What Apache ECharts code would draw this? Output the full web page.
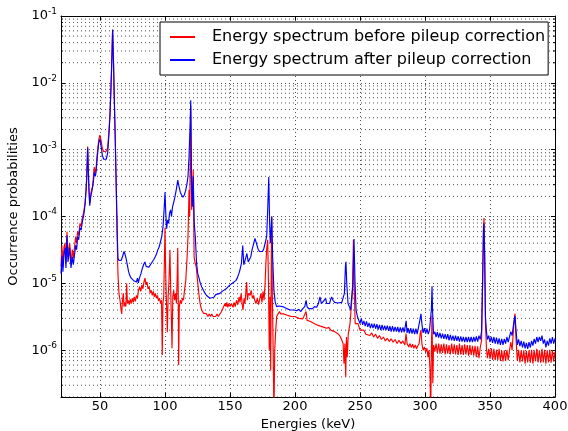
<!DOCTYPE html>
<html><head><meta charset="utf-8">
<script src="https://cdn.jsdelivr.net/npm/echarts@6/dist/echarts.min.js"></script>
<style>html,body{margin:0;padding:0;background:#fff}#c{width:568px;height:431px}</style>
</head><body><div id="c"></div>
<script>
const xTicks = [50,100,150,200,250,300,350,400];
const seriesNames = ['Energy spectrum before pileup correction','Energy spectrum after pileup correction'];

const before = [
[20.0,1.8e-5],[20.7,3.7e-5],[21.5,1.8e-5],[22.3,3.5e-5],[23.1,4e-5],[23.8,2e-5],[24.6,5.9e-5],[25.4,2.5e-5],[26.2,3.5e-5],[26.7,4e-5],[27.7,2e-5],[28.7,3.2e-5],[29.5,2.4e-5],[30.2,3.2e-5],[31.3,5e-5],[32.0,4e-5],[32.8,6e-5],[33.6,5.2e-5],[34.6,7.9e-5],[35.5,7.1e-5],[36.4,9.5e-5],[37.5,1.17e-4],[38.5,1.6e-4],[39.3,2.6e-4],[39.8,4e-4],[40.5,1.12e-3],[41.0,5.2e-4],[41.5,2.6e-4],[42.1,1.6e-4],[42.6,1.9e-4],[43.1,2.3e-4],[43.8,2.6e-4],[44.4,2.8e-4],[45.0,4.2e-4],[45.6,5.5e-4],[46.3,4.5e-4],[46.9,5e-4],[47.5,7.1e-4],[48.2,1e-3],[49.0,1.4e-3],[50.0,1.66e-3],[51.0,1.32e-3],[51.8,1.05e-3],[52.8,9.3e-4],[53.8,9.1e-4],[54.8,9.5e-4],[55.9,1.07e-3],[56.8,1.78e-3],[57.7,3.5e-3],[58.4,8.3e-3],[59.0,1.9e-2],[59.7,6.3e-2],[60.4,2e-2],[61.0,5.9e-3],[61.8,1.26e-3],[62.5,2.7e-4],[63.2,5e-5],[63.8,1.4e-5],[64.6,7.1e-6],[65.4,5.6e-6],[66.2,4e-6],[66.7,3.5e-6],[67.3,5.6e-6],[67.9,7.1e-6],[68.5,4.5e-6],[69.2,5.2e-6],[69.9,4.5e-6],[70.5,1e-5],[71.1,5e-6],[71.8,5.6e-6],[72.5,4.8e-6],[73.2,5.8e-6],[74.0,5e-6],[74.8,6e-6],[75.6,5.2e-6],[76.4,6.3e-6],[77.2,5.4e-6],[78.0,6.6e-6],[78.8,6e-6],[79.6,7.9e-6],[80.5,8.9e-6],[81.3,7.6e-6],[82.2,9.5e-6],[83.0,8.3e-6],[83.8,1.05e-5],[84.6,1.2e-5],[85.4,9.5e-6],[86.2,1.05e-5],[87.0,8.3e-6],[87.8,8.9e-6],[88.6,7.2e-6],[89.4,7.9e-6],[90.2,6.6e-6],[91.0,7.6e-6],[91.8,6.3e-6],[92.6,7.1e-6],[93.4,6e-6],[94.2,6.6e-6],[95.0,5.5e-6],[95.8,6e-6],[96.6,5e-6],[97.3,5.6e-6],[97.9,8.5e-7],[98.4,5e-6],[99.0,6.3e-6],[99.6,2.5e-5],[100.0,6.8e-5],[100.5,1.6e-5],[101.0,6.3e-6],[101.8,1.86e-6],[102.4,6.3e-6],[103.0,1e-5],[103.8,3.2e-5],[104.4,7.9e-6],[105.4,1.07e-6],[106.0,6.3e-6],[106.7,7.9e-6],[107.4,5.6e-6],[108.1,7.1e-6],[108.8,5e-6],[109.4,1.26e-5],[109.8,3.4e-5],[110.2,6.3e-6],[110.5,6e-7],[111.0,4.5e-6],[111.8,5.6e-6],[112.6,5e-6],[113.4,6e-6],[114.2,5.6e-6],[115.0,7.9e-6],[116.0,1.12e-5],[117.0,2.5e-5],[117.7,5e-5],[118.5,2.5e-4],[119.0,1e-4],[119.8,4.5e-3],[120.5,1.26e-4],[121.0,2e-4],[121.7,5e-4],[122.4,2.5e-5],[123.2,2e-5],[124.0,1.8e-5],[125.0,1.12e-5],[126.0,7.1e-6],[127.0,5e-6],[128.2,4e-6],[129.5,3.6e-6],[131.0,3.4e-6],[132.0,3.5e-6],[133.0,3.2e-6],[134.0,3.5e-6],[135.0,3.2e-6],[136.0,3.5e-6],[137.0,3.2e-6],[138.0,3.4e-6],[139.0,3.2e-6],[140.0,3.5e-6],[141.0,3.2e-6],[142.3,3.4e-6],[143.5,3.8e-6],[144.5,4.2e-6],[145.5,4e-6],[146.2,5e-6],[147.0,4.5e-6],[147.5,5.2e-6],[148.3,4.4e-6],[149.0,5e-6],[150.0,4.5e-6],[151.0,5e-6],[152.3,4.4e-6],[153.2,5.2e-6],[154.0,4.5e-6],[155.0,5.6e-6],[156.0,4.8e-6],[157.0,6.3e-6],[157.7,5.2e-6],[158.6,7.1e-6],[159.3,5e-6],[160.0,4e-6],[160.8,6e-6],[161.5,5e-6],[162.3,7.9e-6],[162.8,1.05e-5],[163.4,5.6e-6],[164.2,7.1e-6],[165.4,6.6e-6],[166.3,7.9e-6],[167.2,6e-6],[168.2,6.6e-6],[169.0,5.6e-6],[170.0,5e-6],[171.0,6e-6],[172.0,4.8e-6],[173.0,5e-6],[173.8,7.1e-6],[174.6,5.2e-6],[175.4,7.6e-6],[176.2,5.6e-6],[177.0,1e-5],[177.6,2e-5],[178.2,3.2e-5],[179.0,4.5e-5],[179.6,1e-5],[180.2,1e-6],[180.8,6.3e-6],[181.3,5e-7],[181.8,2.5e-5],[182.1,1e-4],[182.6,6.3e-6],[183.2,1e-6],[183.8,1e-7],[184.4,1e-6],[184.9,1.6e-6],[185.9,3.2e-6],[187.0,3.5e-6],[188.0,3.8e-6],[189.0,3.5e-6],[190.0,3.7e-6],[191.0,3.5e-6],[192.0,3.6e-6],[193.0,3.4e-6],[194.0,3.5e-6],[195.0,3.3e-6],[196.0,3.5e-6],[197.0,3.2e-6],[198.5,3.3e-6],[200.0,3.2e-6],[201.5,3.2e-6],[203.0,3e-6],[204.5,3.2e-6],[206.0,2.95e-6],[207.5,3.1e-6],[208.5,3.8e-6],[209.3,2.8e-6],[210.5,2.9e-6],[212.0,2.7e-6],[213.5,2.75e-6],[215.0,2.5e-6],[216.7,2.4e-6],[218.0,2.5e-6],[219.5,2.3e-6],[221.0,2.35e-6],[222.5,2.2e-6],[224.4,2.14e-6],[226.0,2.2e-6],[227.5,2e-6],[229.0,2.1e-6],[230.5,1.9e-6],[232.0,1.78e-6],[233.5,1.74e-6],[235.0,1.58e-6],[236.0,1.41e-6],[237.0,1.26e-6],[237.7,6.3e-7],[238.4,1.26e-6],[239.0,4e-7],[239.6,1.58e-6],[240.2,7.9e-7],[241.0,1.78e-6],[242.3,2.5e-6],[243.5,2.6e-6],[244.3,7.9e-6],[244.9,4.5e-5],[245.6,7.9e-6],[246.3,2.5e-6],[247.0,2.4e-6],[248.5,2.5e-6],[250.0,2e-6],[251.5,1.9e-6],[253.0,2e-6],[254.5,1.74e-6],[256.0,1.86e-6],[257.7,1.66e-6],[259.0,1.82e-6],[260.5,1.58e-6],[262.0,1.74e-6],[263.5,1.51e-6],[265.0,1.66e-6],[266.5,1.45e-6],[268.0,1.58e-6],[269.5,1.38e-6],[271.0,1.51e-6],[272.5,1.35e-6],[274.0,1.48e-6],[275.5,1.32e-6],[277.0,1.45e-6],[278.5,1.26e-6],[280.0,1.41e-6],[281.5,1.26e-6],[283.0,1.38e-6],[284.5,1.2e-6],[285.4,1.78e-6],[286.2,1.26e-6],[287.5,1.12e-6],[288.5,1.26e-6],[289.5,1.1e-6],[290.5,1.23e-6],[291.5,1.07e-6],[292.5,1.2e-6],[293.5,1.05e-6],[294.5,1.17e-6],[295.5,1.26e-6],[296.3,1.78e-6],[296.9,2e-6],[297.6,1.26e-6],[298.5,1e-6],[299.5,1.12e-6],[300.5,9.5e-7],[301.5,1.07e-6],[302.3,7.9e-7],[303.0,1e-6],[303.8,5.6e-7],[304.4,1e-7],[304.9,1e-6],[305.4,3.3e-6],[306.0,3.2e-7],
[306.6,1.2e-6],[307.5,9.5e-7],[308.5,1.26e-6],[309.5,9.1e-7],[310.5,1.26e-6],[311.5,8.9e-7],[312.5,1.23e-6],[313.5,9.1e-7],[314.5,1.26e-6],[315.5,8.7e-7],[316.5,1.23e-6],[317.5,8.9e-7],[318.5,1.2e-6],[319.5,8.7e-7],[320.5,1.26e-6],[321.5,8.9e-7],[322.5,1.23e-6],[323.5,8.7e-7],[324.5,1.2e-6],[325.5,8.5e-7],[326.5,1.26e-6],[327.5,8.7e-7],[328.5,1.2e-6],[329.5,8.5e-7],[330.5,1.23e-6],[331.5,8.7e-7],[332.5,1.2e-6],[333.5,8.3e-7],[334.5,1.2e-6],[335.5,8.5e-7],[336.5,1.17e-6],[337.5,8.3e-7],[338.5,1.17e-6],[339.5,7.9e-7],[340.5,1.15e-6],[341.5,7.6e-7],[342.5,1.1e-6],[343.5,1.41e-6],[344.3,1e-5],[345.0,7.1e-5],[345.4,9.5e-5],[345.9,2.8e-5],[346.5,2.5e-6],[347.3,1.05e-6],[348.0,7.6e-7],[349.0,1.05e-6],[350.0,7.4e-7],[351.0,1.07e-6],[352.0,7.2e-7],[353.0,1.05e-6],[354.0,7.1e-7],[355.0,1.02e-6],[356.0,7.2e-7],[357.0,1.05e-6],[358.0,6.9e-7],[359.0,1e-6],[360.0,6.8e-7],[361.0,1e-6],[362.0,6.9e-7],[363.0,1.02e-6],[364.0,7.1e-7],[365.0,1e-6],[366.0,1.32e-6],[367.0,1e-6],[368.2,2.24e-6],[369.2,3.55e-6],[370.0,1.51e-6],[371.0,6.9e-7],[372.0,1.02e-6],[373.0,6.6e-7],[374.0,1e-6],[375.0,6.8e-7],[376.0,1e-6],[377.0,6.3e-7],[378.0,9.8e-7],[379.0,6.6e-7],[380.0,1e-6],[381.0,6.5e-7],[382.0,1.02e-6],[383.0,6.3e-7],[384.0,1e-6],[385.0,6.8e-7],[386.0,1.05e-6],[387.0,6.6e-7],[388.0,1e-6],[389.0,6.5e-7],[390.0,1.05e-6],[391.0,6.6e-7],[392.0,1.02e-6],[393.0,6.3e-7],[394.0,1e-6],[395.0,6.6e-7],[396.0,1.02e-6],[397.0,6.5e-7],[398.0,1e-6],[399.0,6.8e-7],[400.0,9.5e-7]
];

const after = [
[20.0,1.4e-5],[20.7,2.6e-5],[21.5,1.5e-5],[22.3,2.8e-5],[23.1,3.4e-5],[23.8,1.7e-5],[24.6,5.2e-5],[25.4,2.1e-5],[26.2,2.8e-5],[26.7,3.4e-5],[27.7,1.7e-5],[28.7,2.5e-5],[29.5,1.9e-5],[30.2,2.5e-5],[31.3,3.7e-5],[32.0,3.2e-5],[32.8,5.0e-5],[33.6,4.5e-5],[34.6,6.8e-5],[35.5,6.3e-5],[36.4,8.3e-5],[37.5,1.05e-4],[38.5,1.5e-4],[39.3,2.5e-4],[39.8,3.7e-4],[40.5,1.07e-3],[41.0,5e-4],[41.5,2.5e-4],[42.1,1.45e-4],[42.6,1.8e-4],[43.1,2.1e-4],[43.8,2.4e-4],[44.4,2.5e-4],[45.0,3.5e-4],[45.6,4.6e-4],[46.3,4e-4],[46.9,4.5e-4],[47.5,6.3e-4],[48.2,8.9e-4],[49.0,1.26e-3],[50.0,1.45e-3],[51.0,1.07e-3],[51.8,8.3e-4],[52.8,7.2e-4],[53.8,6.9e-4],[54.8,7.2e-4],[55.9,8.9e-4],[56.8,1.6e-3],[57.7,3.3e-3],[58.4,7.9e-3],[59.0,1.86e-2],[59.7,6.2e-2],[60.4,2e-2],[61.0,5.9e-3],[61.8,1.26e-3],[62.5,2.7e-4],[63.2,6.3e-5],[63.8,2.4e-5],[64.6,2.2e-5],[65.4,2.3e-5],[66.2,2.2e-5],[67.3,2.5e-5],[68.0,2.8e-5],[68.5,3.0e-5],[69.2,2.75e-5],[70.0,2.4e-5],[71.0,1.9e-5],[72.0,1.5e-5],[73.0,1.3e-5],[74.0,1.2e-5],[75.0,1.17e-5],[76.0,1.1e-5],[77.0,1.17e-5],[78.0,1.05e-5],[78.8,1.2e-5],[79.5,1.02e-5],[80.3,1.2e-5],[81.5,1.4e-5],[82.5,1.66e-5],[83.5,1.9e-5],[84.5,2.1e-5],[85.5,1.8e-5],[86.5,1.9e-5],[87.5,1.74e-5],[88.5,1.78e-5],[89.5,2e-5],[90.5,2.1e-5],[91.5,2.3e-5],[92.5,2.5e-5],[93.5,2.75e-5],[94.5,3.2e-5],[95.5,3.5e-5],[96.5,4.2e-5],[97.5,5e-5],[98.5,7.1e-5],[99.3,1.26e-4],[100.0,2.3e-4],[100.6,1.12e-4],[101.3,6.6e-5],[102.0,8.9e-5],[102.7,7.9e-5],[103.5,1.12e-4],[104.3,1.26e-4],[105.0,1e-4],[105.8,1.4e-4],[106.8,1.66e-4],[107.7,2e-4],[108.8,2.6e-4],[109.8,3.5e-4],[110.8,2.8e-4],[111.8,2.3e-4],[112.8,2.1e-4],[113.8,1.95e-4],[114.8,2.1e-4],[115.8,2.4e-4],[116.8,3e-4],[117.7,4e-4],[118.5,7.9e-4],[119.2,2e-3],[119.8,5.5e-3],[120.4,3.2e-4],[121.0,1.4e-4],[121.7,4e-4],[122.5,7.9e-5],[123.3,5e-5],[124.3,2e-5],[125.2,1.4e-5],[126.2,1.2e-5],[127.2,1e-5],[128.2,8.9e-6],[129.5,7.9e-6],[130.8,7.1e-6],[132.0,6.6e-6],[133.3,6.3e-6],[134.6,6e-6],[136.0,6.3e-6],[137.5,6.2e-6],[139.0,6.8e-6],[140.5,6.6e-6],[142.3,7.1e-6],[144.0,7.6e-6],[145.5,7.9e-6],[147.0,8.3e-6],[148.5,8.9e-6],[150.0,9.3e-6],[151.5,1e-5],[153.0,1.05e-5],[154.5,1.1e-5],[155.6,1.2e-5],[156.8,1.4e-5],[157.7,1.6e-5],[158.8,2e-5],[159.8,3.7e-5],[160.6,1.9e-5],[161.5,1.86e-5],[162.3,2.5e-5],[163.0,2.8e-5],[164.0,2.1e-5],[165.0,2.2e-5],[166.0,2.5e-5],[167.0,3.2e-5],[168.0,3.8e-5],[169.2,4.7e-5],[170.3,4e-5],[171.5,3.3e-5],[172.7,3e-5],[173.8,2.95e-5],[175.0,3e-5],[176.0,3.3e-5],[177.0,4e-5],[178.2,5e-5],[179.0,1.26e-4],[179.8,3.9e-4],[180.5,7.9e-5],[181.0,4e-5],[181.6,6.3e-5],[182.1,1e-4],[182.8,2.5e-5],[183.8,7.9e-6],[184.8,5.2e-6],[185.9,4.5e-6],[187.5,4.6e-6],[189.0,4.3e-6],[190.5,4.5e-6],[192.0,4.3e-6],[193.6,4.2e-6],[195.0,4.4e-6],[196.5,4e-6],[198.0,4.2e-6],[199.5,4e-6],[201.3,3.9e-6],[203.0,4.1e-6],[204.5,3.8e-6],[206.0,4.2e-6],[207.5,4.5e-6],[208.5,5.6e-6],[209.3,4.5e-6],[210.5,4.2e-6],[212.0,4.4e-6],[213.5,4.2e-6],[215.0,4.5e-6],[216.7,4.4e-6],[218.0,5e-6],[219.2,6.3e-6],[220.3,5e-6],[221.5,4.7e-6],[222.5,5.6e-6],[223.5,6e-6],[224.4,5e-6],[225.5,5.2e-6],[226.5,5e-6],[227.5,5.8e-6],[228.2,6.3e-6],[229.2,5.6e-6],[230.5,5.2e-6],[231.5,5.4e-6],[233.0,5.1e-6],[234.5,5e-6],[236.0,5.2e-6],[237.0,5e-6],[238.0,7.1e-6],[238.8,1.8e-5],[239.2,2.1e-5],[239.8,1e-5],[240.8,5e-6],[241.8,4.5e-6],[242.8,4e-6],[243.6,4e-6],[244.5,1e-5],[245.4,4.6e-5],[246.2,1e-5],
[247.0,4.0e-6],[248.0,3.2e-6],[249.0,3.0e-6],[250.0,2.5e-6],[251.0,3.0e-6],[252.0,2.4e-6],[253.0,2.75e-6],[254.0,2.3e-6],[255.0,2.7e-6],[256.0,2.24e-6],[257.0,2.57e-6],[258.0,2.14e-6],[259.0,2.5e-6],[260.0,2.14e-6],[261.0,2.5e-6],[262.0,2.1e-6],[263.0,2.45e-6],[264.0,2.04e-6],[265.0,2.4e-6],[266.0,2e-6],[267.0,2.4e-6],[268.0,2e-6],[269.0,2.34e-6],[270.0,2e-6],[271.0,2.34e-6],[272.0,1.95e-6],[273.0,2.3e-6],[274.0,1.9e-6],[275.0,2.3e-6],[276.0,1.9e-6],[277.0,2.24e-6],[278.0,1.9e-6],[279.0,2.24e-6],[280.0,1.86e-6],[281.0,2.2e-6],[282.0,1.86e-6],[283.0,2.2e-6],[284.0,1.86e-6],[285.0,2.4e-6],[285.5,2.75e-6],[286.2,1.82e-6],[287.0,2.14e-6],[288.0,1.78e-6],[289.0,2.14e-6],[290.0,1.78e-6],[291.0,2.1e-6],[292.0,1.74e-6],[293.0,2.1e-6],[294.0,1.74e-6],[295.0,2.2e-6],[296.0,2.8e-6],[296.9,3.5e-6],[297.7,2.4e-6],[298.5,1.82e-6],[299.5,2.14e-6],[300.5,1.78e-6],[301.5,2.1e-6],[302.5,1.74e-6],[303.5,2.04e-6],[304.3,2e-6],[304.9,4e-6],[305.4,9.1e-6],[305.9,3.55e-6],[306.6,1.74e-6],[307.5,1.9e-6],[308.5,1.58e-6],[309.5,1.86e-6],[310.5,1.55e-6],[311.5,1.82e-6],[312.5,1.51e-6],[313.5,1.78e-6],[314.5,1.48e-6],[315.5,1.74e-6],[316.5,1.45e-6],[317.5,1.74e-6],[318.5,1.41e-6],[319.5,1.7e-6],[320.5,1.41e-6],[321.5,1.66e-6],[322.5,1.38e-6],[323.5,1.66e-6],[324.5,1.38e-6],[325.5,1.62e-6],[326.5,1.35e-6],[327.5,1.62e-6],[328.5,1.35e-6],[329.5,1.58e-6],[330.5,1.32e-6],[331.5,1.58e-6],[332.5,1.32e-6],[333.5,1.58e-6],[334.5,1.32e-6],[335.5,1.58e-6],[336.5,1.32e-6],[337.5,1.58e-6],[338.5,1.35e-6],[339.5,1.62e-6],[340.5,1.35e-6],[341.5,1.66e-6],[342.5,1.45e-6],[343.5,1.9e-6],[344.3,1e-5],[345.0,6.3e-5],[345.4,7.9e-5],[345.9,2.5e-5],[346.5,3.2e-6],[347.3,1.9e-6],[348.0,1.45e-6],[349.0,1.66e-6],[350.0,1.32e-6],[351.0,1.58e-6],[352.0,1.29e-6],[353.0,1.58e-6],[354.0,1.26e-6],[355.0,1.55e-6],[356.0,1.23e-6],[357.0,1.51e-6],[358.0,1.2e-6],[359.0,1.48e-6],[360.0,1.2e-6],[361.0,1.48e-6],[362.0,1.26e-6],[363.0,1.58e-6],[364.0,1.32e-6],[365.0,1.58e-6],[366.0,1.9e-6],[367.0,1.66e-6],[368.2,2.5e-6],[369.2,3.3e-6],[370.0,2e-6],[371.0,1.2e-6],[372.0,1.45e-6],[373.0,1.15e-6],[374.0,1.38e-6],[375.0,1.1e-6],[376.0,1.35e-6],[377.0,1.07e-6],[378.0,1.29e-6],[379.0,1.05e-6],[380.0,1.32e-6],[381.0,1.1e-6],[382.0,1.38e-6],[383.0,1.17e-6],[384.0,1.48e-6],[385.0,1.26e-6],[386.0,1.58e-6],[387.0,1.32e-6],[388.0,1.58e-6],[389.0,1.38e-6],[390.0,1.66e-6],[391.0,1.26e-6],[392.0,1.45e-6],[393.0,1.1e-6],[394.0,1.38e-6],[395.0,1.17e-6],[396.0,1.51e-6],[397.0,1.26e-6],[398.0,1.58e-6],[399.0,1.26e-6],[400.0,1.51e-6]
];

const minorY = [];
for (let e = -7; e <= -2; e++) {
  for (let m = 2; m <= 9; m++) {
    const v = m * Math.pow(10, e);
    if (v >= 2e-7 * 0.999 && v < 0.1) minorY.push(v);
  }
}

const FONT = 'DejaVu Sans';
const gridLine = {show: true, lineStyle: {color: '#222', width: 0.8, type: [1, 3]}};
const axisLineStyle = {show: true, onZero: false, lineStyle: {color: '#000', width: 1}};

const chart = echarts.init(document.getElementById('c'), null, {renderer: 'canvas'});
chart.setOption({
  animation: false,
  backgroundColor: '#fff',
  textStyle: {fontFamily: FONT},
  grid: {left: 61, right: 13, top: 16, bottom: 34, containLabel: false, outerBoundsMode: 'none'},
  legend: {
    data: seriesNames,
    orient: 'vertical',
    left: 160, top: 22,
    backgroundColor: '#fff',
    borderColor: '#000', borderWidth: 1, borderRadius: 0,
    padding: [7, 3, 7, 10],
    itemGap: 7,
    itemWidth: 25, itemHeight: 2,
    icon: 'rect',
    textStyle: {fontFamily: FONT, fontSize: 16, color: '#000', padding: [0, 0, 0, 12]}
  },
  xAxis: [{
    type: 'value', min: 20, max: 400, position: 'bottom',
    axisLine: axisLineStyle,
    axisTick: {show: true, inside: true, length: 4, customValues: xTicks, lineStyle: {color: '#000'}},
    axisLabel: {customValues: xTicks, color: '#000', fontSize: 13, fontFamily: FONT, margin: 3},
    splitLine: gridLine,
    name: 'Energies (keV)', nameLocation: 'middle', nameGap: 17,
    nameTextStyle: {color: '#000', fontSize: 13, fontFamily: FONT}
  }, {
    type: 'value', min: 20, max: 400, position: 'top',
    axisLine: axisLineStyle,
    axisTick: {show: true, inside: true, length: 4, customValues: xTicks, lineStyle: {color: '#000'}},
    axisLabel: {show: false}, splitLine: {show: false}
  }],
  yAxis: [{
    type: 'log', logBase: 10, min: 2e-7, max: 0.1, position: 'left',
    axisLine: axisLineStyle,
    axisTick: {show: true, inside: true, length: 4, lineStyle: {color: '#000'}},
    axisLabel: {
      margin: 4, color: '#000',
      formatter: function (v) {
        const l = Math.log10(v), e = Math.round(l);
        if (Math.abs(l - e) > 1e-6) return '';
        return '{b|10}{s|' + e + '}';
      },
      rich: {
        b: {fontSize: 13, fontFamily: FONT, color: '#000', lineHeight: 18},
        s: {fontSize: 9, fontFamily: FONT, color: '#000', lineHeight: 10, verticalAlign: 'top'}
      }
    },
    splitLine: gridLine,
    name: 'Occurrence probabilities', nameLocation: 'middle', nameGap: 37,
    nameTextStyle: {color: '#000', fontSize: 13, fontFamily: FONT}
  }, {
    type: 'log', logBase: 10, min: 2e-7, max: 0.1, position: 'right',
    axisLine: axisLineStyle,
    axisTick: {show: true, inside: true, length: 4, lineStyle: {color: '#000'}},
    axisLabel: {show: false}, splitLine: {show: false}
  }],
  series: [{
    type: 'custom', name: 'minor', silent: true, z: 1,
    xAxisIndex: 0, yAxisIndex: 0,
    data: minorY.map(v => [20, v]),
    encode: {x: 0, y: 1},
    renderItem: function (params, api) {
      const cs = params.coordSys;
      const y = api.coord([20, api.value(1)])[1];
      return {type: 'group', children: [
        {type: 'line', shape: {x1: cs.x, y1: y, x2: cs.x + cs.width, y2: y}, style: {stroke: '#222', lineWidth: 0.8, lineDash: [1, 3]}},
        {type: 'line', shape: {x1: cs.x, y1: y, x2: cs.x + 2, y2: y}, style: {stroke: '#000', lineWidth: 1}},
        {type: 'line', shape: {x1: cs.x + cs.width - 2, y1: y, x2: cs.x + cs.width, y2: y}, style: {stroke: '#000', lineWidth: 1}}
      ]};
    }
  }, {
    type: 'line', name: seriesNames[0], data: before, color: '#ff0000',
    showSymbol: false, symbol: 'none', sampling: null, z: 3,
    lineStyle: {color: '#ff0000', width: 1.15}, itemStyle: {color: '#ff0000'}
  }, {
    type: 'line', name: seriesNames[1], data: after, color: '#0000ff',
    showSymbol: false, symbol: 'none', sampling: null, z: 4,
    lineStyle: {color: '#0000ff', width: 1.15}, itemStyle: {color: '#0000ff'}
  }]
});
</script>
</body></html>
